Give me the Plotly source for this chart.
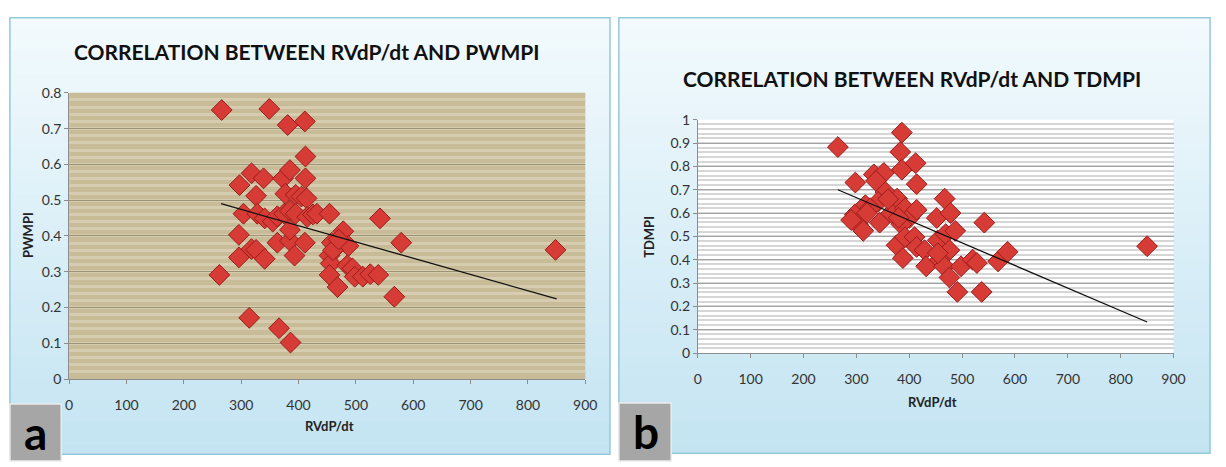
import plotly.graph_objects as go

W, H = 1226, 467

# ---------------- data ----------------
rvdp_a = [266, 349, 381, 411, 412, 297, 318, 339, 326, 373, 385, 412, 377, 395, 405, 414,
          304, 328, 341, 355, 363, 375, 385, 395, 415, 425, 432, 454, 542, 296, 318, 296,
          326, 341, 363, 385, 393, 411, 385, 262, 478, 458, 468, 487, 454, 456, 454, 468,
          485, 494, 498, 512, 525, 539, 579, 567, 848, 314, 366, 386, 460, 470]
pwmpi = [0.752, 0.755, 0.71, 0.72, 0.622, 0.542, 0.575, 0.561, 0.512, 0.561, 0.584, 0.561,
         0.518, 0.515, 0.51, 0.505, 0.462, 0.462, 0.449, 0.44, 0.455, 0.462, 0.47, 0.462,
         0.453, 0.46, 0.462, 0.462, 0.449, 0.403, 0.363, 0.34, 0.361, 0.336, 0.381, 0.386,
         0.345, 0.381, 0.417, 0.291, 0.413, 0.381, 0.372, 0.372, 0.345, 0.323, 0.291, 0.257,
         0.318, 0.309, 0.286, 0.286, 0.293, 0.291, 0.381, 0.23, 0.361, 0.171, 0.142, 0.102,
         0.36, 0.39]

rvdp_b = [265, 386, 383, 386, 412, 414, 298, 333, 352, 337, 355, 341, 317, 297, 303, 313,
          344, 326, 377, 366, 392, 400, 385, 376, 388, 414, 392, 410, 414, 429, 432, 452,
          467, 478, 454, 469, 487, 476, 458, 466, 476, 491, 498, 520, 528, 537, 542, 568,
          586, 850, 454, 360, 290, 320, 380]
tdmpi = [0.883, 0.945, 0.862, 0.786, 0.814, 0.724, 0.731, 0.766, 0.772, 0.738, 0.69, 0.648,
         0.634, 0.593, 0.552, 0.524, 0.559, 0.621, 0.662, 0.6, 0.621, 0.579, 0.552, 0.462,
         0.407, 0.614, 0.497, 0.497, 0.455, 0.441, 0.372, 0.579, 0.662, 0.6, 0.483, 0.51,
         0.524, 0.441, 0.4, 0.372, 0.324, 0.262, 0.372, 0.4, 0.386, 0.262, 0.559, 0.393,
         0.434, 0.458, 0.428, 0.66, 0.57, 0.6, 0.58]

trend_a_x = [265, 850]
trend_a_y = [0.49, 0.224]
trend_b_x = [265, 850]
trend_b_y = [0.70, 0.133]

x_ticks = [0, 100, 200, 300, 400, 500, 600, 700, 800, 900]
ya_ticks = [0, 0.1, 0.2, 0.3, 0.4, 0.5, 0.6, 0.7, 0.8]
yb_ticks = [0, 0.1, 0.2, 0.3, 0.4, 0.5, 0.6, 0.7, 0.8, 0.9, 1]

title_a = "CORRELATION BETWEEN RVdP/dt AND PWMPI"
title_b = "CORRELATION BETWEEN RVdP/dt AND TDMPI"
x_title = "RVdP/dt"
ya_title = "PWMPI"
yb_title = "TDMPI"

# ---------------- helpers ----------------
def px(x):
    return x / W

def py(y):
    return 1 - y / H

FONT = "Lato, Open Sans, sans-serif"
MARKER = dict(symbol="diamond", size=16, color="#d63b36",
              line=dict(color="#9a1c1a", width=1))

fig = go.Figure()

fig.add_trace(go.Scatter(x=rvdp_a, y=pwmpi, mode="markers", marker=MARKER,
                         xaxis="x", yaxis="y", showlegend=False))
fig.add_trace(go.Scatter(x=trend_a_x, y=trend_a_y, mode="lines",
                         line=dict(color="#111111", width=1.3),
                         xaxis="x", yaxis="y", showlegend=False))
fig.add_trace(go.Scatter(x=rvdp_b, y=tdmpi, mode="markers", marker=MARKER,
                         xaxis="x2", yaxis="y2", showlegend=False))
fig.add_trace(go.Scatter(x=trend_b_x, y=trend_b_y, mode="lines",
                         line=dict(color="#111111", width=1.3),
                         xaxis="x2", yaxis="y2", showlegend=False))

shapes = []

# panel backgrounds with vertical gradient
def lerp(c1, c2, t):
    return "rgb(%d,%d,%d)" % tuple(round(a + (b - a) * t) for a, b in zip(c1, c2))

top_c = (242, 250, 253)
bot_c = (196, 228, 242)
for (x0, x1, y0, y1) in [(6, 614, 9, 462), (623, 1222, 9, 461)]:
    n = 40
    for i in range(n):
        ya = y0 + (y1 - y0) * i / n
        yb = y0 + (y1 - y0) * (i + 1) / n + 0.6
        shapes.append(dict(type="rect", xref="paper", yref="paper",
                           x0=px(x0), x1=px(x1), y0=py(yb), y1=py(ya),
                           fillcolor=lerp(top_c, bot_c, i / (n - 1)),
                           line=dict(width=0), layer="below"))
    shapes.append(dict(type="rect", xref="paper", yref="paper",
                       x0=px(x0), x1=px(x1), y0=py(y1), y1=py(y0),
                       fillcolor="rgba(0,0,0,0)",
                       line=dict(color="#93cadb", width=1.5), layer="below"))

# plot area backgrounds
shapes.append(dict(type="rect", xref="x domain", yref="y domain", x0=0, x1=1, y0=0, y1=1,
                   fillcolor="#c8bc98", line=dict(width=0), layer="below"))
shapes.append(dict(type="rect", xref="x2 domain", yref="y2 domain", x0=0, x1=1, y0=0, y1=1,
                   fillcolor="#ffffff", line=dict(width=0), layer="below"))

# letter boxes
for (x0, x1, y0) in [(6, 58, 410), (623, 676, 409)]:
    shapes.append(dict(type="rect", xref="paper", yref="paper",
                       x0=px(x0), x1=px(x1), y0=py(H + 2), y1=py(y0),
                       fillcolor="#a6a6a6", line=dict(color="#ececec", width=1.5),
                       layer="above"))

annotations = [
    dict(text=title_a, x=px(307), y=py(44), xref="paper", yref="paper",
         showarrow=False, xanchor="center", yanchor="middle",
         font=dict(family=FONT, size=21, color="#111111", weight="bold")),
    dict(text=title_b, x=px(920), y=py(72), xref="paper", yref="paper",
         showarrow=False, xanchor="center", yanchor="middle",
         font=dict(family=FONT, size=21, color="#111111", weight="bold")),
    dict(text=x_title, x=px(330), y=py(433), xref="paper", yref="paper",
         showarrow=False, xanchor="center", yanchor="middle",
         font=dict(family=FONT, size=13, color="#222222", weight="bold")),
    dict(text=x_title, x=px(941), y=py(408), xref="paper", yref="paper",
         showarrow=False, xanchor="center", yanchor="middle",
         font=dict(family=FONT, size=13, color="#222222", weight="bold")),
    dict(text=ya_title, x=px(25), y=py(235), xref="paper", yref="paper",
         showarrow=False, xanchor="center", yanchor="middle", textangle=-90,
         font=dict(family=FONT, size=13, color="#222222", weight="bold")),
    dict(text=yb_title, x=px(654), y=py(236), xref="paper", yref="paper",
         showarrow=False, xanchor="center", yanchor="middle", textangle=-90,
         font=dict(family=FONT, size=13, color="#222222", weight="bold")),
    dict(text="a", x=px(32), y=py(440), xref="paper", yref="paper",
         showarrow=False, xanchor="center", yanchor="middle",
         font=dict(family=FONT, size=46, color="#000000", weight="bold")),
    dict(text="b", x=px(650), y=py(438), xref="paper", yref="paper",
         showarrow=False, xanchor="center", yanchor="middle",
         font=dict(family=FONT, size=46, color="#000000", weight="bold")),
]

tickfont = dict(family=FONT, size=14, color="#333333")

common_x = dict(range=[0, 900], tickvals=x_ticks, ticks="outside", ticklen=4,
                tickcolor="#8c8c8c", showline=True, linecolor="#8c8c8c", linewidth=1,
                showgrid=False, zeroline=False, tickfont=tickfont, fixedrange=True,
                ticklabelstandoff=9)

fig.update_layout(
    width=W, height=H,
    margin=dict(l=0, r=0, t=0, b=0),
    paper_bgcolor="#ffffff",
    plot_bgcolor="rgba(0,0,0,0)",
    showlegend=False,
    shapes=shapes,
    annotations=annotations,
    xaxis=dict(domain=[px(66), px(589)], anchor="y", **common_x),
    yaxis=dict(domain=[py(384), py(87)], anchor="x", range=[0, 0.8], tickvals=ya_ticks,
               ticks="outside", ticklen=4, tickcolor="#8c8c8c", showline=True,
               linecolor="#8c8c8c", linewidth=1, zeroline=False, tickfont=tickfont,
               showgrid=True, gridcolor="#9c9274", gridwidth=1,
               minor=dict(dtick=0.02, showgrid=True, gridcolor="#d6cdb0", gridwidth=2.5,
                          ticks=""),
               fixedrange=True),
    xaxis2=dict(domain=[px(703), px(1185)], anchor="y2", **common_x),
    yaxis2=dict(domain=[py(357), py(115)], anchor="x2", range=[0, 1], tickvals=yb_ticks,
                ticks="outside", ticklen=4, tickcolor="#8c8c8c", showline=True,
                linecolor="#8c8c8c", linewidth=1, zeroline=False, tickfont=tickfont,
                showgrid=True, gridcolor="#a3a3a3", gridwidth=1,
                minor=dict(dtick=0.02, showgrid=True, gridcolor="#d6d6d6", gridwidth=1.5,
                           ticks=""),
                fixedrange=True),
)

fig.write_html("out.html")
